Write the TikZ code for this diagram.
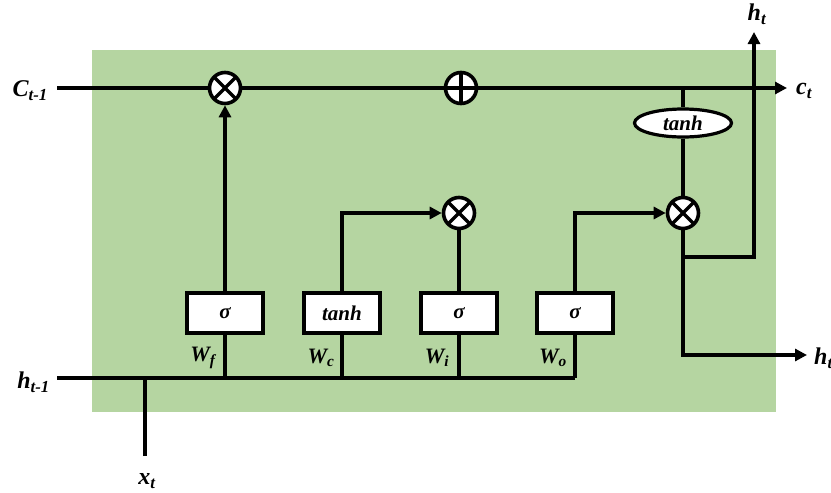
\documentclass[tikz,border=0pt]{standalone}
\usepackage{fontspec}
\setmainfont{Liberation Serif}
\usetikzlibrary{arrows.meta,shapes.geometric}
\definecolor{cellgreen}{RGB}{181,213,161}
\tikzset{
  wire/.style={line width=3.3pt},
  arr/.style={wire,-{Triangle[length=12pt,width=12pt]}},
  gatebox/.style={draw,fill=white,line width=3.2pt,minimum width=76pt,minimum height=40pt,inner sep=0pt,font=\fontsize{21}{21}\selectfont\bfseries\itshape},
  opcirc/.style={circle,draw,fill=white,line width=3.6pt,minimum size=31pt,inner sep=0pt},
  times/.style={opcirc,path picture={\draw[line width=3.4pt]
      (path picture bounding box.north west) -- (path picture bounding box.south east)
      (path picture bounding box.north east) -- (path picture bounding box.south west);}},
  plus/.style={opcirc,path picture={\draw[line width=3.4pt]
      (path picture bounding box.north) -- (path picture bounding box.south)
      (path picture bounding box.east) -- (path picture bounding box.west);}},
  lbl/.style={font=\fontsize{24}{24}\selectfont\bfseries\itshape,inner sep=0pt},
  wlbl/.style={font=\fontsize{22}{22}\selectfont\bfseries\itshape,inner sep=0pt},
}
\newcommand{\sub}[1]{\textsubscript{#1}}
\begin{document}
\begin{tikzpicture}[x=1pt,y=-1pt]
\useasboundingbox (0,0) rectangle (831,493);
\clip (0,0) rectangle (831,493);
% cell body
\fill[cellgreen] (92,50) rectangle (776,412);

% operators
\node[times] (m1) at (225,88) {};
\node[plus] (p1) at (461,88) {};
\node[times] (m2) at (459,213) {};
\node[times] (m3) at (683,213) {};
\node[ellipse,draw,fill=white,line width=3.2pt,minimum width=97pt,minimum height=28pt,inner sep=0pt,
      font=\fontsize{21}{21}\selectfont\bfseries\itshape] (th) at (683,123) {tanh};

% gates
\node[gatebox] (bf) at (225,313) {σ};
\node[gatebox] (bc) at (342,313) {tanh};
\node[gatebox] (bi) at (459,313) {σ};
\node[gatebox] (bo) at (575,313) {σ};

% free ends
\coordinate (cin) at (57,88);
\coordinate (cout) at (787,88);
\coordinate (hin) at (57,378);
\coordinate (bus) at (575,378);
\coordinate (xtop) at (145,378);
\coordinate (xbot) at (145,456);
\coordinate (ctap) at (683,88);
\coordinate (hsplit) at (683,257);
\coordinate (htop) at (754,32);
\coordinate (hright) at (807,355);

% labels
\node[lbl,anchor=east] (lc) at (48,91) {C\sub{t-1}};
\node[lbl,anchor=west] (lco) at (796,91) {c\sub{t}};
\node[lbl,anchor=east] (lh) at (50,382) {h\sub{t-1}};
\node[lbl] (lx) at (147,481) {x\sub{t}};
\node[lbl] (lht) at (757,14) {h\sub{t}};
\node[lbl,anchor=west] (lho) at (814,358) {h\sub{t}};
\node[wlbl] (wf) at (203,358) {W\sub{f}};
\node[wlbl] (wc) at (321,358) {W\sub{c}};
\node[wlbl] (wi) at (437,358) {W\sub{i}};
\node[wlbl] (wo) at (553,358) {W\sub{o}};

% cell state line
\draw[wire] (cin) -- (m1.west);
\draw[wire] (m1.east) -- (p1.west);
\draw[arr] (p1.east) -- (cout);

% input bus
\draw[wire] (hin) -- (bus);
\draw[wire] (xbot) -- (xtop);
\foreach \g in {bf,bc,bi,bo}
  \draw[wire] (\g.south) -- (\g.south |- bus);

% gate outputs
\draw[arr] (bf.north) -- (m1.south);
\draw[arr] (bc.north) |- (m2.west);
\draw[wire] (bi.north) -- (m2.south);
\draw[arr] (bo.north) |- (m3.west);

% output branch
\draw[wire] (ctap) -- (th.north);
\draw[wire] (th.south) -- (m3.north);
\draw[wire] (m3.south) -- (hsplit);
\draw[arr] (hsplit) -| (htop);
\draw[arr] (hsplit) |- (hright);
\end{tikzpicture}
\end{document}
